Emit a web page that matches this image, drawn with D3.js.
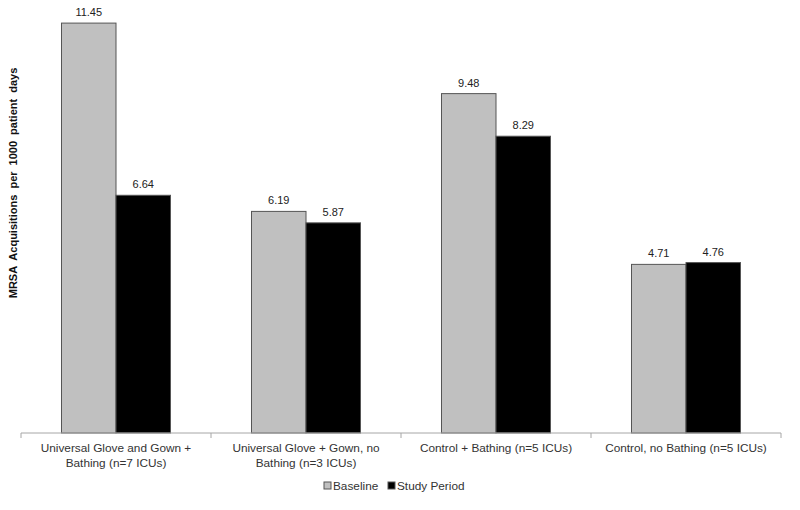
<!DOCTYPE html>
<html>
<head>
<meta charset="utf-8">
<script src="https://cdn.jsdelivr.net/npm/d3@7"></script>
<style>
  body { margin: 0; background: #fff; }
  text { font-family: "Liberation Sans", Arial, sans-serif; }
</style>
</head>
<body>
<svg width="800" height="510"></svg>
<script>
// chart data
var categories = [
  ["Universal Glove and Gown +", "Bathing (n=7 ICUs)"],
  ["Universal Glove + Gown, no", "Bathing (n=3 ICUs)"],
  ["Control + Bathing (n=5 ICUs)"],
  ["Control, no Bathing (n=5 ICUs)"]
];
var seriesNames = ["Baseline", "Study Period"];
var baseline = [11.45, 6.19, 9.48, 4.71];
var study = [6.64, 5.87, 8.29, 4.76];
var colors = ["#c0c0c0", "#000000"];

var svg = d3.select("svg"),
    margin = {top: 3, right: 19, bottom: 77, left: 21},
    width = 800 - margin.left - margin.right,
    height = 510 - margin.top - margin.bottom,
    g = svg.append("g").attr("transform", "translate(" + margin.left + "," + margin.top + ")");

var x0 = d3.scaleBand()
    .domain(d3.range(categories.length))
    .range([0, width]);

var x1 = d3.scaleBand()
    .domain(seriesNames)
    .range([0, x0.bandwidth()])
    .paddingInner(0)
    .paddingOuter(0.743);

var y = d3.scaleLinear()
    .domain([0, 12])
    .range([height, height - 12 * 35.8]);

var rows = categories.map(function(c, i) {
  return [
    {name: seriesNames[0], value: baseline[i]},
    {name: seriesNames[1], value: study[i]}
  ];
});

var group = g.selectAll(".group")
  .data(rows)
  .enter().append("g")
    .attr("class", "group")
    .attr("transform", function(d, i) { return "translate(" + x0(i) + ",0)"; });

group.selectAll("rect")
  .data(function(d) { return d; })
  .enter().append("rect")
    .attr("x", function(d) { return x1(d.name); })
    .attr("y", function(d) { return y(d.value); })
    .attr("width", x1.bandwidth())
    .attr("height", function(d) { return y(0) - y(d.value); })
    .attr("fill", function(d, i) { return colors[i]; })
    .attr("stroke", "#555")
    .attr("stroke-width", 1);

group.selectAll(".val")
  .data(function(d) { return d; })
  .enter().append("text")
    .attr("class", "val")
    .attr("x", function(d) { return x1(d.name) + x1.bandwidth() / 2; })
    .attr("y", function(d) { return y(d.value) - 7; })
    .attr("text-anchor", "middle")
    .style("font-size", "11px")
    .style("fill", "#222")
    .text(function(d) { return d.value.toFixed(2); });

// x axis
var xAxis = g.append("g")
    .attr("transform", "translate(0," + height + ")");

xAxis.append("line")
    .attr("x1", 0).attr("x2", width)
    .attr("stroke", "#a6a6a6");

xAxis.selectAll(".tick")
  .data(d3.range(categories.length + 1))
  .enter().append("line")
    .attr("x1", function(d) { return d * x0.step(); })
    .attr("x2", function(d) { return d * x0.step(); })
    .attr("y1", 0).attr("y2", 5)
    .attr("stroke", "#a6a6a6");

xAxis.selectAll(".cat")
  .data(categories)
  .enter().append("text")
    .attr("class", "cat")
    .attr("x", function(d, i) { return x0(i) + x0.bandwidth() / 2; })
    .attr("text-anchor", "middle")
    .style("font-size", "11.8px")
    .style("fill", "#333")
    .selectAll("tspan")
    .data(function(d) { return d; })
    .enter().append("tspan")
      .attr("x", function() { return d3.select(this.parentNode).attr("x"); })
      .attr("y", function(d, i) { return 19 + i * 15; })
      .text(function(d) { return d; });

// y label
svg.append("text")
    .attr("transform", "translate(17,183) rotate(-90)")
    .attr("text-anchor", "middle")
    .style("font-size", "11px")
    .style("font-weight", "bold")
    .style("fill", "#111")
    .style("word-spacing", "3px")
    .text("MRSA Acquisitions per 1000 patient days");

// legend
var legend = svg.append("g").attr("transform", "translate(324,486)");
var lx = [0, 64];
seriesNames.forEach(function(name, i) {
  legend.append("rect")
      .attr("x", lx[i]).attr("y", -4)
      .attr("width", 7).attr("height", 7)
      .attr("fill", colors[i])
      .attr("stroke", "#555");
  legend.append("text")
      .attr("x", lx[i] + 9).attr("y", 4)
      .style("font-size", "11.8px")
      .style("fill", "#333")
      .text(name);
});
</script>
</body>
</html>
